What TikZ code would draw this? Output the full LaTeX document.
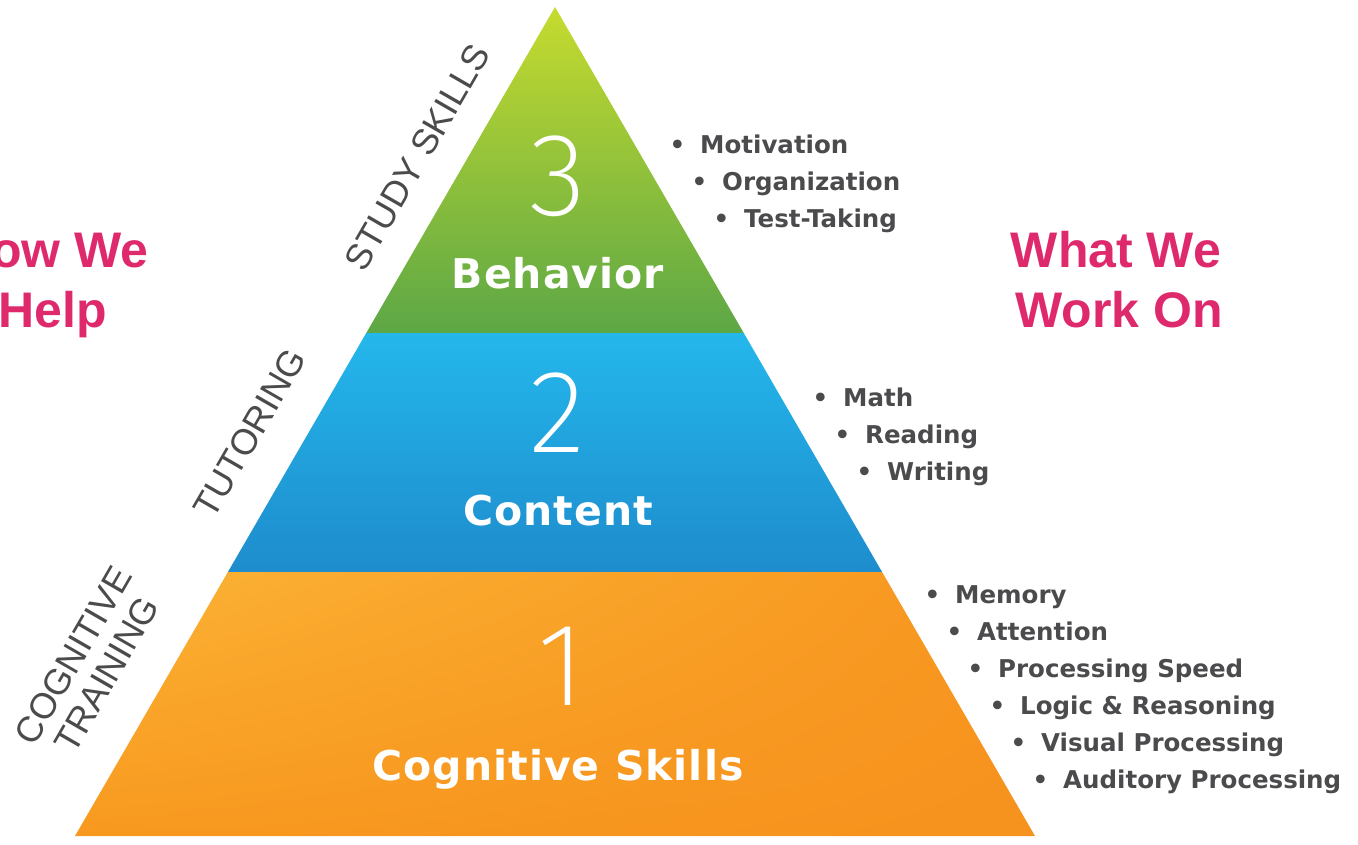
\documentclass[tikz,border=0pt]{standalone}
\usepackage{fontspec}
\usetikzlibrary{shadings}
\setmainfont{Liberation Sans}
\newfontfamily\bulfont{DejaVu Sans}
\newfontfamily\titlefont[LetterSpace=2.5]{DejaVu Sans}
\newfontfamily\thinfont{Fira Sans ExtraLight}
\definecolor{gtop}{HTML}{C6DB2F}
\definecolor{gbot}{HTML}{5CA746}
\definecolor{btop}{HTML}{24B7EC}
\definecolor{bbot}{HTML}{1E8CCD}
\definecolor{otl}{HTML}{FBB436}
\definecolor{otr}{HTML}{F7961F}
\definecolor{obl}{HTML}{F8991F}
\definecolor{obr}{HTML}{F6921E}
\definecolor{pinktxt}{HTML}{DE2A6D}
\definecolor{graytxt}{HTML}{4B4B4D}
\tikzset{
  num/.style={text=white, inner sep=0pt, anchor=base, font=\thinfont\fontsize{118}{118}\selectfont},
  bandtitle/.style={text=white, inner sep=0pt, anchor=base, font=\titlefont\bfseries\fontsize{41}{41}\selectfont},
  sidelabel/.style={text=graytxt, inner sep=0pt, rotate=60, align=center, font=\fontsize{36}{38}\selectfont},
  headline/.style={text=pinktxt, inner sep=0pt, anchor=base, font=\bfseries\fontsize{50}{50}\selectfont},
  item/.style={text=graytxt, inner sep=0pt, anchor=base west, font=\bulfont\bfseries\fontsize{24.5}{24.5}\selectfont},
}
\newcommand{\bul}[1]{\llap{\textbullet\hspace{15pt}}#1}
\begin{document}
\begin{tikzpicture}[x=1pt,y=-1pt]
\useasboundingbox (0,0) rectangle (1358,844);
\clip (0,0) rectangle (1358,844);
% pyramid bands
\shade[top color=gtop, bottom color=gbot] (555,7) -- (366.25,333) -- (743.75,333) -- cycle;
\shade[top color=btop, bottom color=bbot] (366.25,333) -- (227.9,572) -- (882.1,572) -- (743.75,333) -- cycle;
\shade[upper left=otl, upper right=otr, lower left=obl, lower right=obr] (227.9,572) -- (75,836) -- (1035,836) -- (882.1,572) -- cycle;
% numbers and titles
\node[num] (n3) at (558,215) {3};
\node[num] (n2) at (557,452) {2};
\node[num] (n1) at (561,705) {1};
\node[bandtitle] (t3) at (558,288) {Behavior};
\node[bandtitle] (t2) at (558,525) {Content};
\node[bandtitle] (t1) at (558,780) {Cognitive Skills};
% side labels
\node[sidelabel] (s3) at (417,157) {STUDY SKILLS};
\node[sidelabel] (s2) at (250,433) {TUTORING};
\node[sidelabel] (s1) at (90,665) {COGNITIVE\\TRAINING};
% headlines
\node[headline] (h1) at (52,267) {How We};
\node[headline] (h2) at (53,327) {Help};
\node[headline] (w1) at (1116,267) {What We};
\node[headline] (w2) at (1119,327) {Work On};
% lists
\node[item] (a1) at (700,153) {\bul{Motivation}};
\node[item] (a2) at (722,190) {\bul{Organization}};
\node[item] (a3) at (744,227) {\bul{Test-Taking}};
\node[item] (b1) at (843,406) {\bul{Math}};
\node[item] (b2) at (865,443) {\bul{Reading}};
\node[item] (b3) at (887,480) {\bul{Writing}};
\node[item] (c1) at (955,603) {\bul{Memory}};
\node[item] (c2) at (977,640) {\bul{Attention}};
\node[item] (c3) at (998,677) {\bul{Processing Speed}};
\node[item] (c4) at (1020,714) {\bul{Logic \& Reasoning}};
\node[item] (c5) at (1041,751) {\bul{Visual Processing}};
\node[item] (c6) at (1063,788) {\bul{Auditory Processing}};
\end{tikzpicture}
\end{document}
